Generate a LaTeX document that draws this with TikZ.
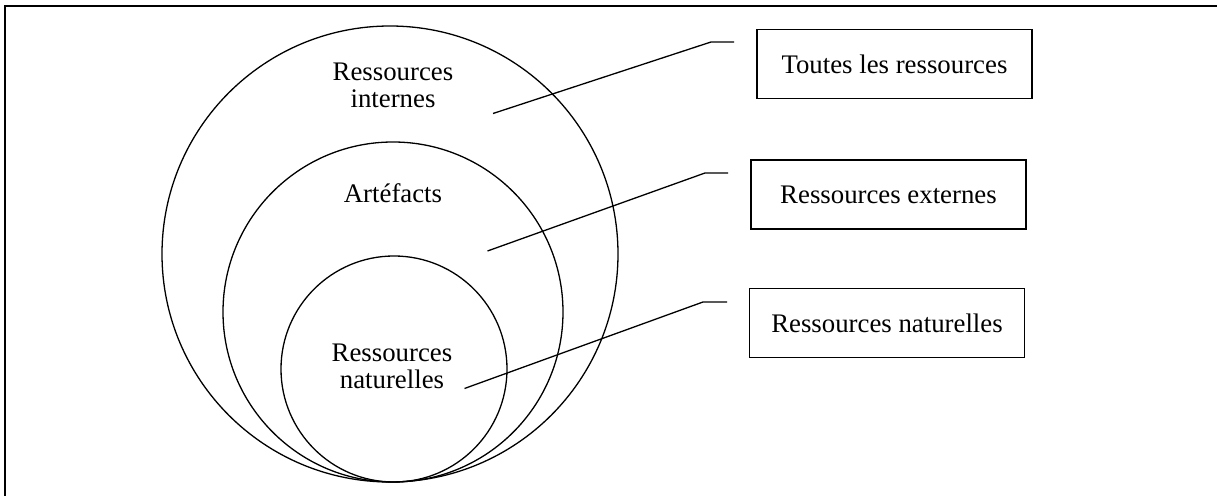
\documentclass[tikz,border=0pt]{standalone}
\usepackage{fontspec}
\setmainfont{Liberation Serif}
\begin{document}
\begin{tikzpicture}[x=0.5pt,y=-0.5pt]

    \tikzset{
      ring/.style={
        draw,
        circle,
        line width=0.65pt,
        inner sep=0pt,
      },
      ringlabel/.style={
        align=center,
        inner sep=0pt,
        font=\fontsize{13.4}{13.5}\selectfont,
      },
      resbox/.style={
        draw,
        line width=0.65pt,
        minimum width=137.5pt,
        minimum height=34.5pt,
        font=\fontsize{13.4}{13.5}\selectfont,
      },
      leader/.style={
        line width=0.65pt,
      },
    }
    \useasboundingbox (0,0) rectangle (1217,496);
    \draw[line width=1pt] (5,496)--(5,6.5)--(1217,6.5);

	\node[ring, minimum size=228pt] (outer) at (390,254) {};
	\node[ring, minimum size=170pt] (middle) at (393,312) {};
	\node[ring, minimum size=113pt] (inner) at (394,369) {};

	\node[ringlabel] (internes) at (393,85.5) {Ressources\\internes};
	\node[ringlabel, anchor=base] (artefacts) at (393,203) {Artéfacts};
	\node[ringlabel] (naturelles) at (392,366) {Ressources\\naturelles};

	\node[resbox] (toutes) at (894.5,64) {Toutes les ressources};
	\node[resbox] (externes) at (888.5,194.5) {Ressources externes};
	\node[resbox] (natbox) at (887,323) {Ressources naturelles};

	\coordinate (p1) at (493,113.5);
	\coordinate (k1) at (711,42);
	\coordinate (e1) at (734,42);
	\coordinate (p2) at (487.5,251);
	\coordinate (k2) at (705,173);
	\coordinate (e2) at (728,173);
	\coordinate (p3) at (464.5,388.5);
	\coordinate (k3) at (703,302);
	\coordinate (e3) at (727,302);
	\draw[leader] (p1)--(k1)--(e1);
	\draw[leader] (p2)--(k2)--(e2);
	\draw[leader] (p3)--(k3)--(e3);

\end{tikzpicture}
\end{document}
